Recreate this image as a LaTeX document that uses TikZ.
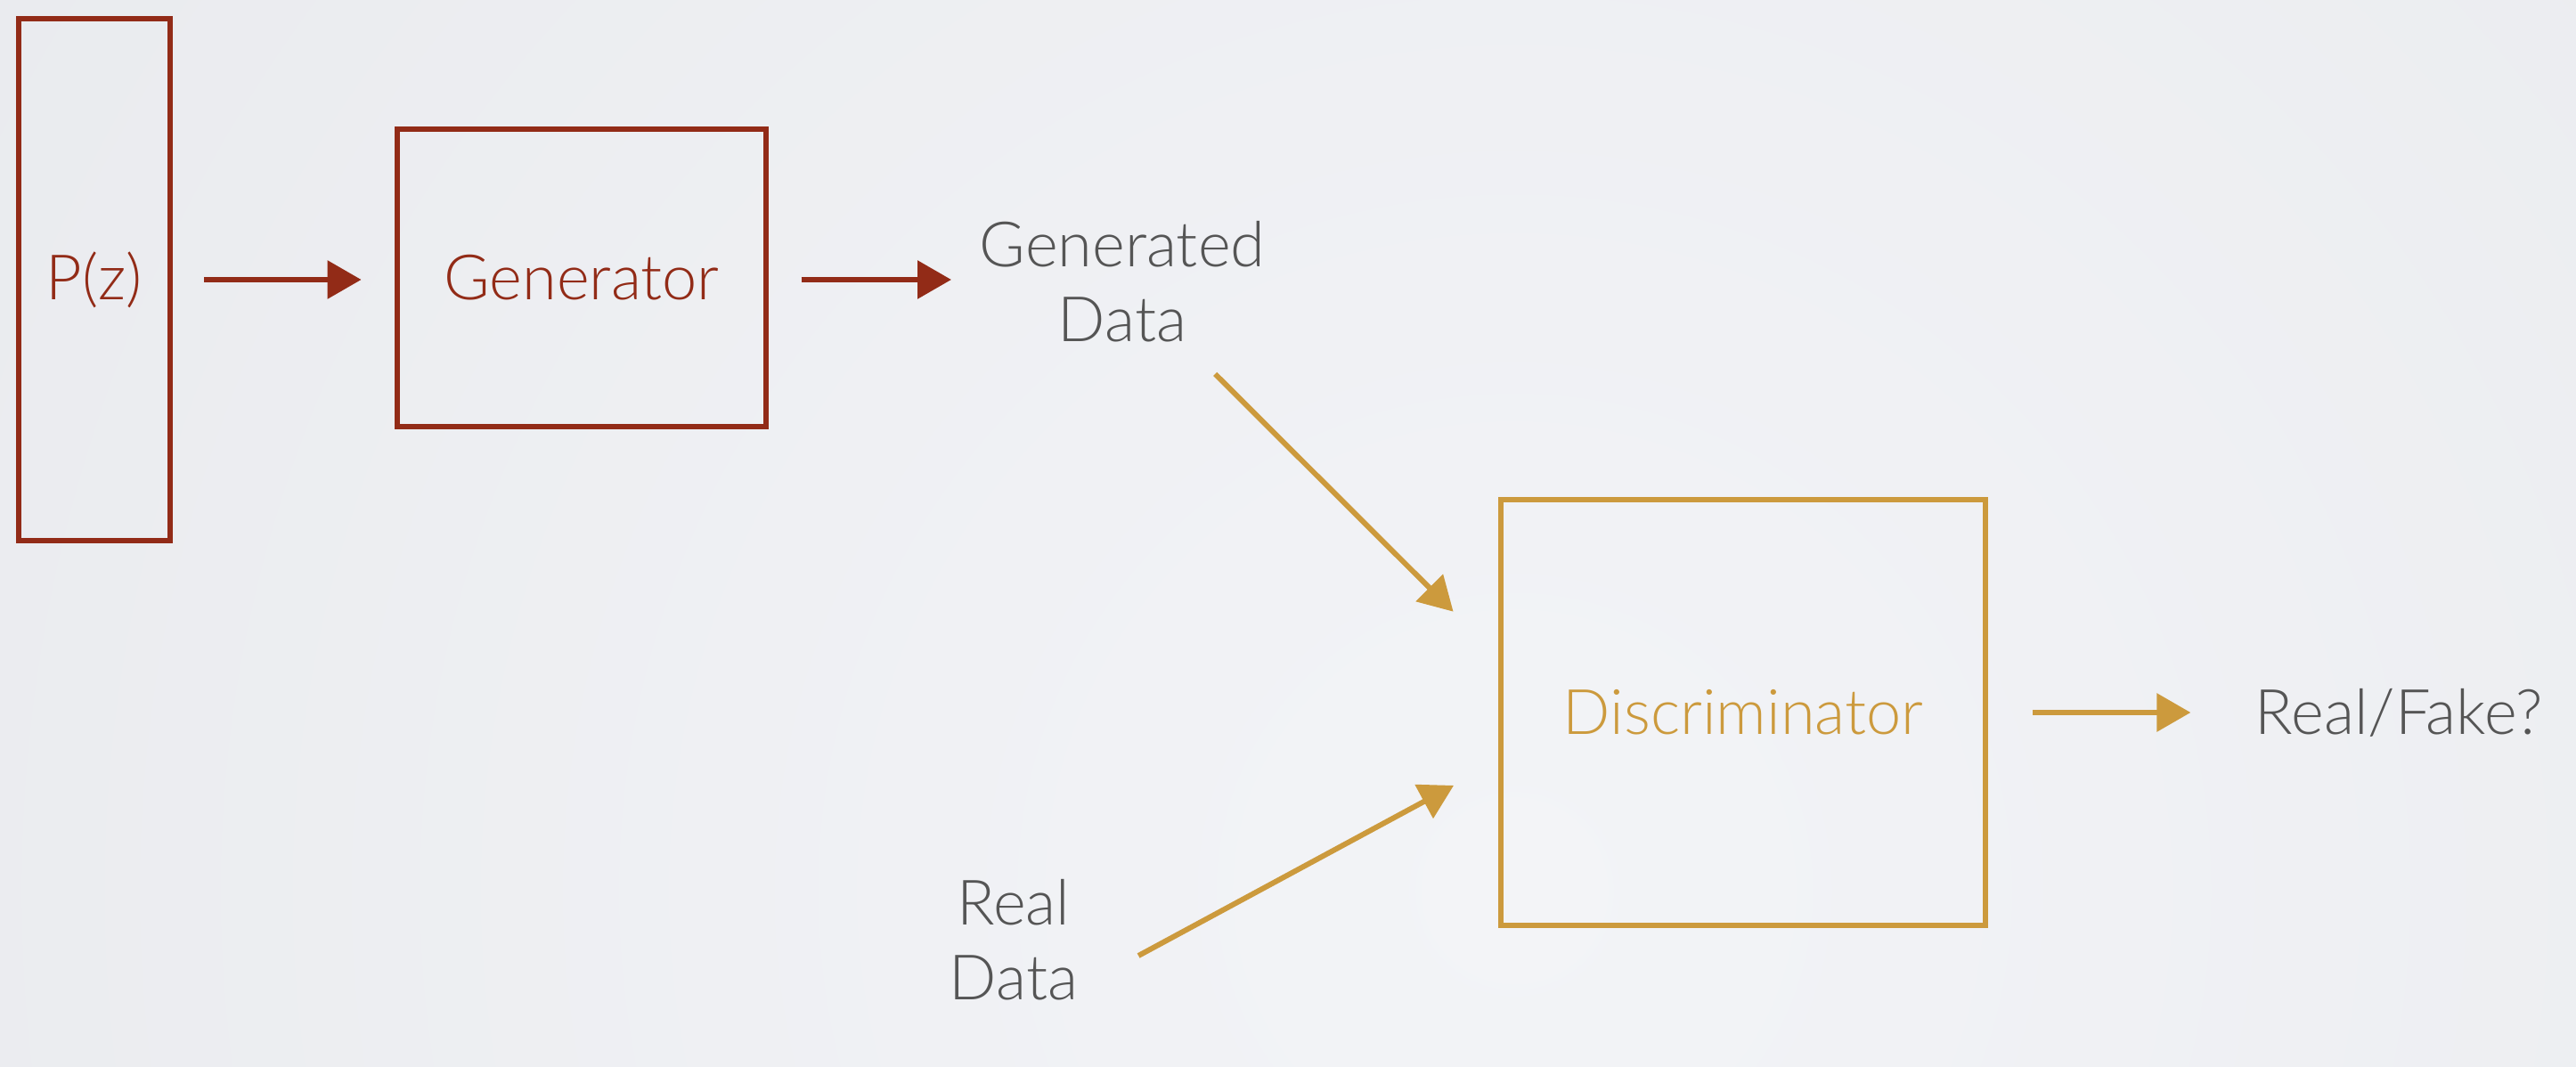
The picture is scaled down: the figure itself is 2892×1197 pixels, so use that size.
\documentclass[tikz,border=0pt]{standalone}
\usepackage{fontspec}
\setmainfont{Lato Light}
\usetikzlibrary{arrows}
\usetikzlibrary{calc}
\usetikzlibrary{decorations.markings}
\usetikzlibrary{positioning}
\tikzset{feed/.style = {shorten >=2pt,
                        decoration={markings,
                                    mark=at position 1 with {\arrow[scale=1.1]{triangle 60}}},
                        postaction={decorate}}}
\tikzset{block/.style = {draw, line width=1.7pt}}
\tikzset{caption/.style = {gangray, inner sep=0pt, align=center}}
\definecolor{ganred}{RGB}{146, 43, 23}
\definecolor{gangold}{RGB}{204, 154, 61}
\definecolor{gangray}{RGB}{85, 85, 85}
\definecolor{bglight}{RGB}{243, 244, 247}
\definecolor{bgdark}{RGB}{225, 227, 231}

\begin{document}
\begin{tikzpicture}[x=0.01cm, y=-0.01cm, line width=1.7pt,
                    every node/.append style={font=\fontsize{20}{24}\selectfont}]
    \useasboundingbox (0, 0) rectangle (2892, 1197);
    \begin{scope}
      \clip (0, 0) rectangle (2892, 1197);
      \shade [inner color=bglight, outer color=bgdark] (-2100, -2800) rectangle (5500, 4800);
    \end{scope}
    \node [block, ganred, minimum width=1.70cm, minimum height=5.86cm] (pz) at (106, 314) {P(z)};
    \node [block, ganred, minimum width=4.13cm, minimum height=3.34cm] (gen) at (653, 312) {Generator};
    \node [block, gangold, minimum width=5.44cm, minimum height=4.78cm] (disc) at (1957, 800) {Discriminator};
    \node [caption] (gd) at (1260, 316) {Generated\\Data};
    \node [caption] (rd) at (1138, 1055) {Real\\Data};
    \node [caption] (rf) at (2693, 800) {Real/Fake?};
    \coordinate (in1) at ($(disc.west) + (-50, -113)$);
    \coordinate (in2) at ($(disc.west) + (-50, 82)$);
    \draw [ganred, feed] ($(pz.east) + (35, 0)$) -- ($(gen.west) + (-38, 2)$);
    \draw [ganred, feed] ($(gen.east) + (37, 2)$) -- ($(gd.west |- gen.east) + (-29, 2)$);
    \draw [gangold, feed] ($(gd)!0.28!(in1)$) -- (in1);
    \draw [gangold, feed] ($(rd.east) + (65, 18)$) -- (in2);
    \draw [gangold, feed] ($(disc.east) + (50, 0)$) -- ($(disc.east) + (227, 0)$);
  \end{tikzpicture}
\end{document}
